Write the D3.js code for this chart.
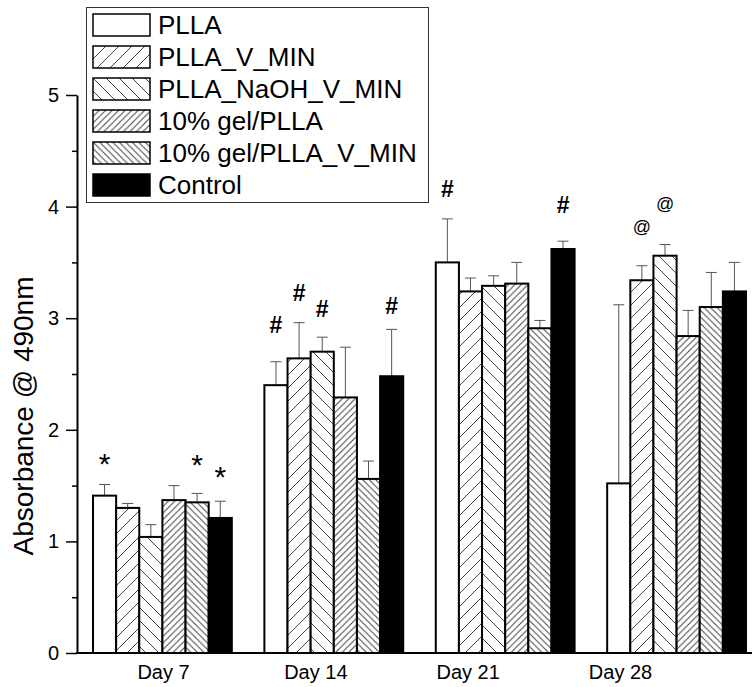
<!DOCTYPE html>
<html>
<head>
<meta charset="utf-8">
<script src="https://cdn.jsdelivr.net/npm/d3@7"></script>
<style>
  body { margin: 0; background: #fff; }
  svg { display: block; font-family: "Liberation Sans", Arial, sans-serif; }
</style>
</head>
<body>
<svg id="chart" width="752" height="687"></svg>
<script>
// data
var days = ['Day 7', 'Day 14', 'Day 21', 'Day 28']
var series = ['PLLA', 'PLLA_V_MIN', 'PLLA_NaOH_V_MIN', '10% gel/PLLA', '10% gel/PLLA_V_MIN', 'Control']

// one row per day, one value per series
var means = [
  [1.41, 1.30, 1.04, 1.37, 1.35, 1.21],
  [2.40, 2.64, 2.70, 2.29, 1.56, 2.48],
  [3.50, 3.24, 3.29, 3.31, 2.91, 3.62],
  [1.52, 3.34, 3.56, 2.84, 3.10, 3.24]
]
var errors = [
  [0.10, 0.04, 0.11, 0.13, 0.08, 0.15],
  [0.21, 0.32, 0.13, 0.45, 0.16, 0.42],
  [0.39, 0.12, 0.09, 0.19, 0.07, 0.07],
  [1.60, 0.13, 0.10, 0.23, 0.31, 0.26]
]

// significance marks: day index, series index, symbol, height of the mark centre
var markDay    = [0, 0, 0, 1, 1, 1, 1, 2, 2, 3, 3]
var markSeries = [0, 4, 5, 0, 1, 2, 5, 0, 5, 1, 2]
var markSym    = ['*', '*', '*', '#', '#', '#', '#', '#', '#', '@', '@']
var markAt     = [1.75, 1.74, 1.63, 2.94, 3.23, 3.08, 3.11, 4.16, 4.01, 3.81, 4.01]

var yTicks = [0, 1, 2, 3, 4, 5]
var yMinor = [0.5, 1.5, 2.5, 3.5, 4.5]

var svg = d3.select('#chart')
var fills = ['#fff', 'url(#diagA)', 'url(#diagB)', 'url(#denseA)', 'url(#denseB)', '#000']

// hatch patterns
var defs = svg.append('defs')
function hatch(id, s, up){
  var p = defs.append('pattern').attr('id', id)
    .attr('patternUnits', 'userSpaceOnUse')
    .attr('width', s).attr('height', s)
  p.append('rect').attr('width', s).attr('height', s).attr('fill', '#fff')
  var d = up
    ? 'M0,' + s + 'L' + s + ',0M-2,2L2,-2M' + (s - 2) + ',' + (s + 2) + 'L' + (s + 2) + ',' + (s - 2)
    : 'M0,0L' + s + ',' + s + 'M-2,' + (s - 2) + 'L2,' + (s + 2) + 'M' + (s - 2) + ',-2L' + (s + 2) + ',2'
  p.append('path').attr('d', d).attr('stroke', '#444').attr('stroke-width', 1).attr('fill', 'none')
}
hatch('diagA', 13, true)
hatch('diagB', 13, false)
hatch('denseA', 6.5, true)
hatch('denseB', 6.5, false)

var y = d3.scaleLinear().domain([0, 5]).range([653, 95])
var x0 = d3.scaleBand().domain(days).range([93, 746]).paddingInner(0.19).paddingOuter(0)
var x1 = d3.scaleBand().domain(d3.range(series.length)).range([0, x0.bandwidth()])
var xLab = d3.scalePoint().domain(days).range([163, 620])

// bars
var rows = []
days.forEach(function(day, i){
  series.forEach(function(s, j){
    rows.push({day: day, j: j, v: means[i][j], e: errors[i][j]})
  })
})

// error bars first (drawn upward only)
var eb = svg.append('g').attr('stroke', '#555').attr('stroke-width', 1)
eb.selectAll('line.v').data(rows).enter().append('line')
  .attr('x1', function(d){ return x0(d.day) + x1(d.j) + x1.bandwidth() / 2 })
  .attr('x2', function(d){ return x0(d.day) + x1(d.j) + x1.bandwidth() / 2 })
  .attr('y1', function(d){ return y(d.v) })
  .attr('y2', function(d){ return y(d.v + d.e) })
eb.selectAll('line.c').data(rows).enter().append('line')
  .attr('x1', function(d){ return x0(d.day) + x1(d.j) + x1.bandwidth() / 2 - 5.5 })
  .attr('x2', function(d){ return x0(d.day) + x1(d.j) + x1.bandwidth() / 2 + 5.5 })
  .attr('y1', function(d){ return y(d.v + d.e) })
  .attr('y2', function(d){ return y(d.v + d.e) })

svg.append('g').selectAll('rect').data(rows).enter().append('rect')
  .attr('x', function(d){ return x0(d.day) + x1(d.j) })
  .attr('y', function(d){ return y(d.v) })
  .attr('width', x1.bandwidth())
  .attr('height', function(d){ return y(0) - y(d.v) })
  .attr('fill', function(d){ return fills[d.j] })
  .attr('stroke', '#000').attr('stroke-width', 2)

// marks
var symSize = {'*': 30, '#': 23, '@': 18}
var symDy = {'*': 16, '#': 8, '@': 5}
svg.append('g').selectAll('text').data(markSym).enter().append('text')
  .attr('x', function(d, i){ return x0(days[markDay[i]]) + x1(markSeries[i]) + x1.bandwidth() / 2 })
  .attr('y', function(d, i){ return y(markAt[i]) + symDy[d] })
  .attr('text-anchor', 'middle')
  .attr('font-size', function(d){ return symSize[d] })
  .attr('font-weight', function(d){ return d == '#' ? 'bold' : 'normal' })
  .text(function(d){ return d })

// axes
var yAxis = svg.append('g').attr('transform', 'translate(77,0)')
  .call(d3.axisLeft(y).tickValues(yTicks).tickFormat(d3.format('d')).tickSize(11).tickSizeOuter(0).tickPadding(7))
yAxis.select('.domain').attr('stroke-width', 2)
yAxis.selectAll('.tick line').attr('stroke-width', 1.5)
yAxis.selectAll('text').attr('font-size', 20).attr('fill', '#000')
  .attr('font-family', '"Liberation Sans", Arial, sans-serif')

var yMin = svg.append('g').attr('transform', 'translate(77,0)')
  .call(d3.axisLeft(y).tickValues(yMinor).tickFormat('').tickSize(5).tickSizeOuter(0))
yMin.select('.domain').remove()
yMin.selectAll('.tick line').attr('stroke-width', 1.5)

svg.append('line').attr('x1', 76).attr('x2', 752).attr('y1', y(0)).attr('y2', y(0))
  .attr('stroke', '#000').attr('stroke-width', 2)

var xAxis = svg.append('g').attr('transform', 'translate(0,' + y(0) + ')')
  .call(d3.axisBottom(xLab).tickSize(0).tickPadding(12))
xAxis.select('.domain').remove()
xAxis.selectAll('text').attr('font-size', 20).attr('fill', '#000')
  .attr('font-family', '"Liberation Sans", Arial, sans-serif')

svg.append('text')
  .attr('transform', 'translate(33,416) rotate(-90)')
  .attr('text-anchor', 'middle')
  .attr('font-size', 28)
  .text('Absorbance @ 490nm')

// legend
var lg = svg.append('g')
lg.append('rect').attr('x', 86.5).attr('y', 7.5).attr('width', 342).attr('height', 195)
  .attr('fill', '#fff').attr('stroke', '#333').attr('stroke-width', 1)
var item = lg.selectAll('g.item').data(series).enter().append('g')
  .attr('transform', function(d, i){ return 'translate(93,' + (14 + i * 32) + ')' })
item.append('rect').attr('width', 57).attr('height', 22)
  .attr('fill', function(d, i){ return fills[i] })
  .attr('stroke', '#000').attr('stroke-width', 1.5)
item.append('text').attr('x', 65).attr('y', 20).attr('font-size', 26)
  .text(function(d){ return d })
</script>
</body>
</html>
